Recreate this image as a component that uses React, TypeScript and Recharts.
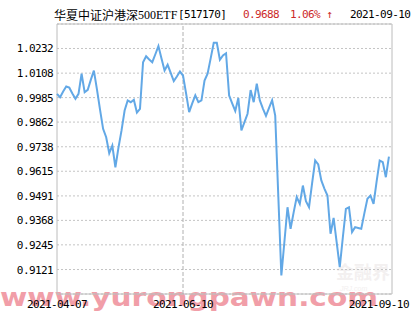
import React from 'react'
import {
  LineChart,
  Line,
  XAxis,
  YAxis,
  CartesianGrid,
  ReferenceLine,
  ReferenceArea,
} from 'recharts'

// 华夏中证沪港深500ETF 日净值 (2021-04-07 ~ 2021-09-10)
const navValues = [
  1.0004, 0.9987, 1.0016, 1.0041, 1.0035, 1.0006, 0.9979, 1.0004, 1.0105, 1.0012,
  1.0024, 1.0074, 1.0121, 1.0026, 0.9925, 0.9828, 0.9786, 0.9706, 0.9744, 0.9635,
  0.9734, 0.982, 0.992, 0.9971, 0.9962, 0.9974, 0.991, 0.9929, 1.0163, 1.0193,
  1.0177, 1.0163, 1.0203, 1.0244, 1.0182, 1.0121, 1.015, 1.0109, 1.0068, 1.0091,
  1.0116, 1.0096, 1.0006, 0.9912, 0.9956, 0.9996, 0.9962, 0.9971, 1.0071, 1.0105,
  1.0182, 1.0261, 1.0261, 1.0175, 1.0197, 1.0208, 0.9996, 0.9956, 0.9918, 0.9983,
  0.982, 0.9862, 0.9904, 1.0023, 0.9962, 1.0055, 0.9971, 0.993, 0.9893, 0.9933,
  0.9972, 0.9895, 0.9493, 0.9091, 0.9262, 0.9434, 0.9326, 0.9408, 0.9485, 0.9451,
  0.9543, 0.9464, 0.9434, 0.9554, 0.9669, 0.9649, 0.9569, 0.9528, 0.9493, 0.9301,
  0.938, 0.9257, 0.9133, 0.9282, 0.9426, 0.9434, 0.9309, 0.9334, 0.933, 0.9326,
  0.9403, 0.9477, 0.9493, 0.9451, 0.9564, 0.9669, 0.9661, 0.9585, 0.9688,
]

const dateLabels = ['2021-04-07', '2021-06-10', '2021-09-10']
const dateTickIdx = [0, 41, 108]
const yTicks = [0.9121, 0.9245, 0.9368, 0.9491, 0.9615, 0.9738, 0.9862, 0.9985, 1.0108, 1.0232]
const yDomain = [0.8998, 1.0355]
const xDomain = [0, 109]

const fundName = '华夏中证沪港深'
const fundNameLatin = '500ETF'
const fundCode = '[517170]'
const lastNav = '0.9688'
const lastChange = '1.06% ↑'
const lastDate = '2021-09-10'
const watermark = 'www.yurongpawn.com'

const data = navValues.map((v, i) => ({ i, v }))

const mono = '"DejaVu Sans Mono", monospace'
const red = '#cc2a2a'

function DateTick(props: any) {
  const { x, y, payload } = props
  const k = dateTickIdx.indexOf(payload.value)
  const last = k === dateTickIdx.length - 1
  return (
    <text
      x={last ? x + 20 : x}
      y={y}
      dy={12}
      textAnchor={last ? 'end' : 'middle'}
      fontFamily={mono}
      fontSize={11}
      letterSpacing={-0.6}
      fill="#000"
    >
      {dateLabels[k]}
    </text>
  )
}

function NavTick(props: any) {
  const { x, y, payload } = props
  return (
    <text x={x} y={y} dy={4} textAnchor="end" fontFamily={mono} fontSize={11} letterSpacing={-0.6} fill="#000">
      {payload.value.toFixed(4)}
    </text>
  )
}

export default function App() {
  return (
    <div style={{ position: 'absolute', left: 0, top: 0, width: 415, height: 330, background: '#fff', overflow: 'hidden' }}>
      {/* 背景水印 */}
      <svg width={415} height={330} style={{ position: 'absolute', left: 0, top: 0 }}>
        <text x={336} y={279} fontFamily='"Noto Sans CJK SC"' fontSize={18} fontWeight={700} fill="#f3f0f0">
          金融界
        </text>
        <text x={340} y={291} fontFamily="Arial, sans-serif" fontSize={7} fontStyle="italic" fill="#f3f0f0">
          JRJ.com
        </text>
        <text
          x={0}
          y={306}
          textLength={378}
          lengthAdjust="spacingAndGlyphs"
          fontFamily='"DejaVu Sans", sans-serif'
          fontWeight={700}
          fontSize={25}
          fill="#ef8e99"
          opacity={0.85}
        >
          {watermark}
        </text>
      </svg>

      <div style={{ position: 'absolute', left: 0, top: 8, height: 14, lineHeight: '14px', whiteSpace: 'nowrap' }}>
        <span style={{ position: 'absolute', left: 54, fontFamily: '"Noto Sans CJK SC"', fontSize: 12, color: '#000' }}>
          {fundName}
        </span>
        <span style={{ position: 'absolute', left: 138, fontFamily: '"Liberation Serif", serif', fontSize: 12, color: '#000' }}>
          {fundNameLatin}
        </span>
        <span style={{ position: 'absolute', left: 178, fontFamily: mono, fontSize: 11, letterSpacing: -0.6, color: '#000' }}>
          {fundCode}
        </span>
        <span style={{ position: 'absolute', left: 243, fontFamily: mono, fontSize: 11, letterSpacing: -0.6, color: red }}>
          {lastNav}
        </span>
        <span style={{ position: 'absolute', left: 290, fontFamily: mono, fontSize: 11, letterSpacing: -0.6, color: red }}>
          {lastChange}
        </span>
        <span style={{ position: 'absolute', left: 350, fontFamily: mono, fontSize: 11, letterSpacing: -0.6, color: '#000' }}>
          {lastDate}
        </span>
      </div>

      <div style={{ position: 'absolute', left: 0, top: 0 }}>
        <LineChart width={415} height={330} data={data} margin={{ top: 24, right: 23, left: 0, bottom: 0 }}>
          <CartesianGrid vertical={false} stroke="#c4c4c4" strokeDasharray="2 2" />
          <ReferenceArea
            x1={xDomain[0]}
            x2={xDomain[1]}
            y1={yDomain[0]}
            y2={yDomain[1]}
            fill="none"
            stroke="#bcbcbc"
            fillOpacity={0}
          />
          <ReferenceLine x={dateTickIdx[1]} stroke="#b0b0b0" strokeDasharray="4 2" />
          <XAxis
            dataKey="i"
            type="number"
            domain={xDomain}
            ticks={dateTickIdx}
            interval={0}
            height={36}
            axisLine={false}
            tickLine={false}
            tickSize={0}
            tick={<DateTick />}
          />
          <YAxis
            type="number"
            domain={yDomain}
            ticks={yTicks}
            interval={0}
            width={57}
            axisLine={false}
            tickLine={false}
            tickSize={0}
            tickMargin={4}
            tick={<NavTick />}
          />
          <Line
            type="linear"
            dataKey="v"
            stroke="#62a8e6"
            strokeWidth={2}
            dot={false}
            isAnimationActive={false}
          />
        </LineChart>
      </div>
    </div>
  )
}
